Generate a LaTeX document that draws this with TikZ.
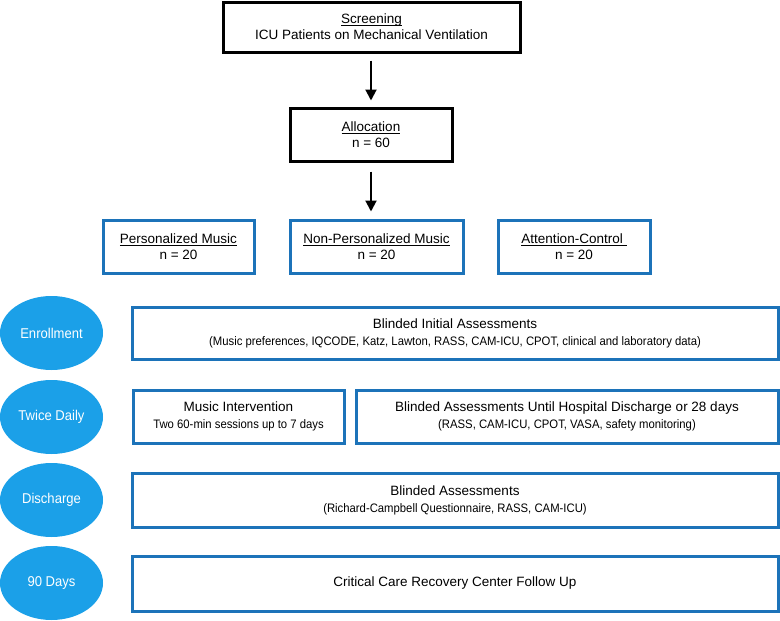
\documentclass[tikz,border=0pt]{standalone}
\usepackage{fontspec}
\setmainfont{Liberation Sans}
\newfontfamily\narrowfont[FakeStretch=0.92]{Liberation Sans}
\usetikzlibrary{arrows.meta,shapes.geometric}
\definecolor{boxblue}{RGB}{28,115,185}
\definecolor{dotblue}{RGB}{27,160,232}
\newcommand{\subtxt}[1]{{\narrowfont\fontsize{12.3}{14}\selectfont #1}}
\newcommand{\undertxt}[1]{\setbox0\hbox{#1}\rlap{\rule[-2.2pt]{\wd0}{0.7pt}}\box0}

\begin{document}
\begin{tikzpicture}[x=1pt,y=-1pt,
  blackbox/.style={draw,line width=3pt,align=center,inner sep=0pt,
    font=\fontsize{13.5}{16}\selectfont},
  bluebox/.style={draw=boxblue,line width=3pt,align=center,inner sep=0pt,
    font=\fontsize{13.5}{16}\selectfont},
  phase/.style={ellipse,fill=dotblue,text=white,inner sep=0pt,
    minimum width=103pt,minimum height=74pt,
    font=\narrowfont\fontsize{14.2}{16}\selectfont},
  flow/.style={line width=2pt,-{Triangle[length=11pt,width=11pt]}}]
\useasboundingbox (0,0) rectangle (780,621);

% screening and allocation
\node[blackbox,minimum width=297pt,minimum height=50pt] (screen) at (371.5,27)
  {\undertxt{Screening}\\ICU Patients on Mechanical Ventilation};
\node[blackbox,minimum width=162pt,minimum height=53pt] (alloc) at (371,134.5)
  {\undertxt{Allocation}\\n = 60};
\draw[flow,shorten <=7pt,shorten >=6pt] (screen.south -| alloc) -- (alloc.north);

% the three arms
\node[bluebox,minimum width=151pt,minimum height=53pt] (arm1) at (178.5,246.5)
  {\undertxt{Personalized Music}\\n = 20};
\node[bluebox,minimum width=173pt,minimum height=53pt] (arm2) at (376.5,246.5)
  {\undertxt{Non-Personalized Music}\\n = 20};
\node[bluebox,minimum width=152pt,minimum height=53pt] (arm3) at (574,246.5)
  {\undertxt{Attention-Control\ }\\n = 20};
\draw[flow,shorten <=9pt,shorten >=7pt] (alloc.south) -- (alloc.south |- arm2.north);

% time points
\node[phase] (enroll) at (51.5,333) {Enrollment};
\node[phase] (twice) at (51.5,417) {Twice Daily};
\node[phase] (disch) at (51.5,500) {Discharge};
\node[phase] (days) at (51.5,583) {90 Days};

\node[bluebox,minimum width=646pt,minimum height=52pt] (initial) at (455,333)
  {Blinded Initial Assessments\\[1pt]
   \subtxt{(Music preferences, IQCODE, Katz, Lawton, RASS, CAM-ICU, CPOT, clinical and laboratory data)}};
\node[bluebox,minimum width=211pt,minimum height=53pt] (music) at (238.5,416.5)
  {Music Intervention\\[1pt]\subtxt{Two 60-min sessions up to 7 days}};
\node[bluebox,minimum width=422pt,minimum height=53pt] (daily) at (567,416.5)
  {Blinded Assessments Until Hospital Discharge or 28 days\\[1pt]
   \subtxt{(RASS, CAM-ICU, CPOT, VASA, safety monitoring)}};
\node[bluebox,minimum width=646pt,minimum height=54pt] (final) at (455,500)
  {Blinded Assessments\\[1pt]\subtxt{(Richard-Campbell Questionnaire, RASS, CAM-ICU)}};
\node[bluebox,minimum width=646pt,minimum height=55pt] (follow) at (455,583.5)
  {Critical Care Recovery Center Follow Up};
\end{tikzpicture}
\end{document}
